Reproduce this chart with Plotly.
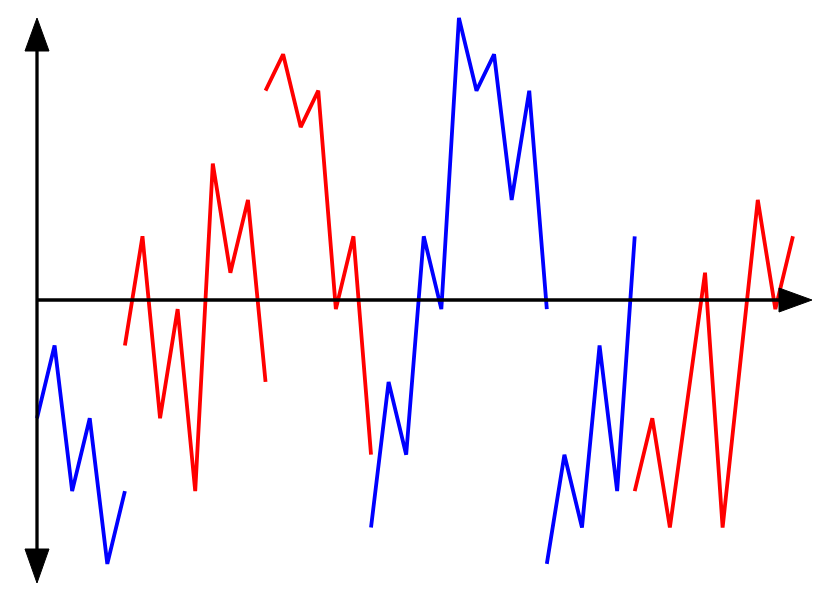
import plotly.graph_objects as go

# segmentos de la señal (indice de muestra, nivel)
blue_1_x = [0, 1, 2, 3, 4, 5]
blue_1_y = [-3.25, -1.25, -5.25, -3.25, -7.25, -5.25]

red_1_x = [5, 6, 7, 8, 9, 10, 11, 12, 13]
red_1_y = [-1.25, 1.75, -3.25, -0.25, -5.25, 3.75, 0.75, 2.75, -2.25]

red_2_x = [13, 14, 15, 16, 17, 18, 19]
red_2_y = [5.75, 6.75, 4.75, 5.75, -0.25, 1.75, -4.25]

blue_2_x = [19, 20, 21, 22, 23, 24, 25, 26, 27, 28, 29]
blue_2_y = [-6.25, -2.25, -4.25, 1.75, -0.25, 7.75, 5.75, 6.75, 2.75, 5.75, -0.25]

blue_3_x = [29, 30, 31, 32, 33, 34]
blue_3_y = [-7.25, -4.25, -6.25, -1.25, -5.25, 1.75]

red_3_x = [34, 35, 36, 38, 39, 41, 42, 43]
red_3_y = [-5.25, -3.25, -6.25, 0.75, -6.25, 2.75, -0.25, 1.75]

segments = [
    (blue_1_x, blue_1_y, "#0000ff"),
    (red_1_x, red_1_y, "#ff0000"),
    (red_2_x, red_2_y, "#ff0000"),
    (blue_2_x, blue_2_y, "#0000ff"),
    (blue_3_x, blue_3_y, "#0000ff"),
    (red_3_x, red_3_y, "#ff0000"),
]

W, H = 830, 601

fig = go.Figure()
for xs, ys, col in segments:
    fig.add_trace(go.Scatter(x=xs, y=ys, mode="lines",
                             line=dict(color=col, width=3.8),
                             showlegend=False, hoverinfo="skip"))


def p(x, y):
    # pixeles -> coordenadas paper
    return x / W, 1 - y / H


def tri(a, b, c):
    pts = [p(*a), p(*b), p(*c)]
    return "M {} {} L {} {} L {} {} Z".format(*[v for pt in pts for v in pt])


ax_style = dict(type="line", xref="paper", yref="paper",
                line=dict(color="black", width=3.3))
x0, y0 = p(37, 40)
x1, y1 = p(37, 560)
fig.add_shape(x0=x0, y0=y0, x1=x1, y1=y1, **ax_style)
x0, y0 = p(37, 300)
x1, y1 = p(785, 300)
fig.add_shape(x0=x0, y0=y0, x1=x1, y1=y1, **ax_style)

head = dict(type="path", xref="paper", yref="paper",
            fillcolor="black", line=dict(color="black", width=1))
fig.add_shape(path=tri((37, 18), (25, 51), (49, 51)), **head)
fig.add_shape(path=tri((37, 583), (25, 549), (49, 549)), **head)
fig.add_shape(path=tri((812, 300), (779, 288), (779, 312)), **head)

fig.update_layout(
    width=W, height=H,
    margin=dict(l=0, r=0, t=0, b=0),
    paper_bgcolor="white", plot_bgcolor="white",
    xaxis=dict(visible=False, range=[-37 / 17.58, (W - 37) / 17.58]),
    yaxis=dict(visible=False, range=[-301 / 36.4, 300 / 36.4]),
)

# quitar el margen del body para que la figura quede en (0,0)
fig.write_html("out.html", config={"displayModeBar": False},
               post_script="document.body.style.margin='0';")
